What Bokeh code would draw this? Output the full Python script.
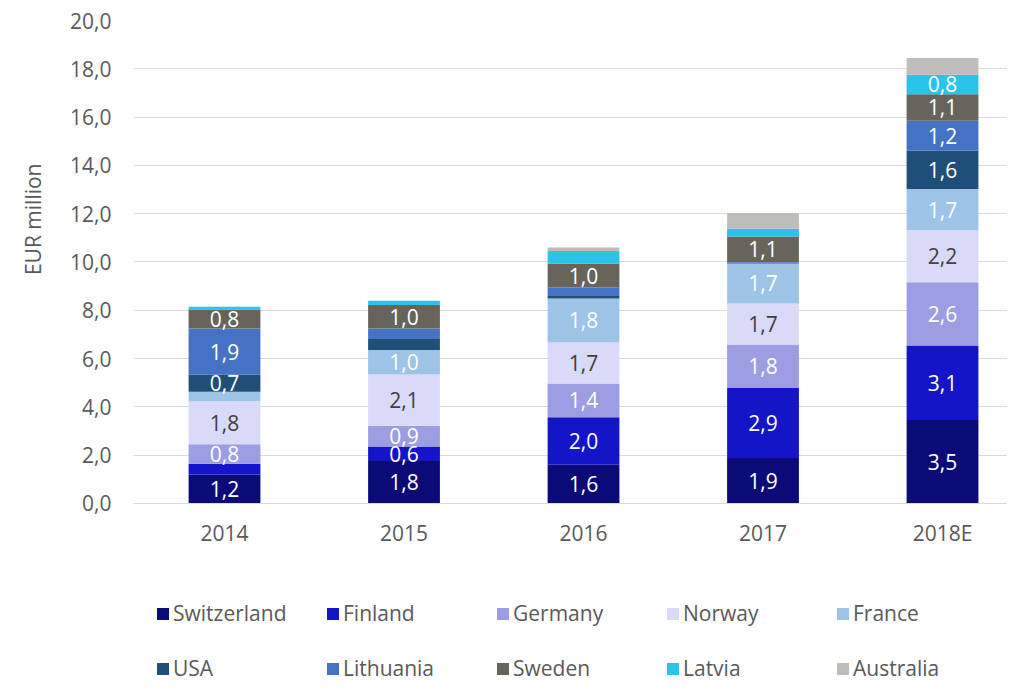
from bokeh.plotting import figure
from bokeh.models import ColumnDataSource, Range1d, FixedTicker, Legend, LegendItem, Title
from bokeh.core.properties import value
from bokeh.embed import file_html
from bokeh.resources import INLINE
import numpy as np

years = ["2014", "2015", "2016", "2017", "2018E"]
countries = ["Switzerland", "Finland", "Germany", "Norway", "France",
             "USA", "Lithuania", "Sweden", "Latvia", "Australia"]
switzerland = [1.2, 1.76, 1.6, 1.88, 3.46]
finland = [0.45, 0.6, 1.97, 2.9, 3.08]
germany = [0.8, 0.86, 1.4, 1.8, 2.62]
norway = [1.78, 2.12, 1.7, 1.7, 2.16]
france = [0.4, 1.02, 1.82, 1.66, 1.7]
usa = [0.7, 0.45, 0.1, 0.03, 1.6]
lithuania = [1.92, 0.44, 0.35, 0.03, 1.23]
sweden = [0.78, 0.97, 1.0, 1.06, 1.1]
latvia = [0.12, 0.18, 0.52, 0.32, 0.8]
australia = [0.0, 0.0, 0.14, 0.65, 0.7]
series = [switzerland, finland, germany, norway, france,
          usa, lithuania, sweden, latvia, australia]
colors = ["#0b0b78", "#1414c8", "#9d9de3", "#d9daf7", "#9dc3e6",
          "#1f4e79", "#4472c4", "#67645c", "#2bc4e8", "#bfbdb9"]
label_colors = ["white", "white", "white", "#404040", "white",
                "white", "white", "white", "white", "white"]
show_labels = [True] * 9 + [False]
y_ticks = [0, 2, 4, 6, 8, 10, 12, 14, 16, 18, 20]
y_title = "EUR million"

FONT = "Open Sans"
GREY = "#595959"

xs = list(range(len(years)))
data = {"x": xs}
for name, vals in zip(countries, series):
    data[name] = vals
source = ColumnDataSource(data)

p = figure(width=1007, height=684, output_backend="svg", toolbar_location=None,
           x_range=Range1d(-0.507, 4.362), y_range=Range1d(-7.495, 20),
           min_border_left=133, min_border_right=0, min_border_top=20,
           min_border_bottom=0, outline_line_color=None,
           background_fill_color="white", border_fill_color="white")

renderers = p.vbar_stack(countries, x="x", width=0.4, color=colors, source=source,
                         line_width=0)

# data labels
lx, ly, lt, lc = [], [], [], []
bottoms = np.zeros(len(years))
for vals, col, show in zip(series, label_colors, show_labels):
    v = np.array(vals, dtype=float)
    if show:
        for i in range(len(years)):
            if v[i] >= 0.55:
                lx.append(xs[i])
                ly.append(bottoms[i] + v[i] / 2)
                lt.append(f"{v[i]:.1f}".replace(".", ","))
                lc.append(col)
    bottoms = bottoms + v
lsrc = ColumnDataSource(dict(x=lx, y=ly, text=lt, color=lc))
p.text(x="x", y="y", text="text", source=lsrc, text_color="color",
       text_align="center", text_baseline="middle",
       text_font=value(FONT), text_font_size="21px")

# axes
p.xaxis.ticker = FixedTicker(ticks=xs)
p.xaxis.major_label_overrides = {x: y for x, y in zip(xs, years)}
p.xaxis.fixed_location = 0
p.yaxis.ticker = FixedTicker(ticks=y_ticks)
p.yaxis.major_label_overrides = {t: f"{t:.1f}".replace(".", ",") for t in y_ticks}
for ax in (p.xaxis[0], p.yaxis[0]):
    ax.major_tick_line_color = None
    ax.minor_tick_line_color = None
    ax.major_tick_out = 0
    ax.major_tick_in = 0
    ax.minor_tick_out = 0
    ax.major_label_text_font = FONT
    ax.major_label_text_font_size = "21px"
    ax.major_label_text_color = GREY
p.xaxis.axis_line_color = "#d9d9d9"
p.xaxis.axis_line_width = 1
p.xaxis.major_label_standoff = 16
p.yaxis.axis_line_color = None
p.yaxis.major_label_standoff = 22
p.xgrid.grid_line_color = None
p.ygrid.grid_line_color = "#d9d9d9"
p.ygrid.grid_line_width = 1

p.add_layout(Title(text=y_title, align="right", vertical_align="top",
                   offset=143, standoff=37, text_font=FONT,
                   text_font_size="21px", text_font_style="normal",
                   text_color=GREY), "left")

items = [LegendItem(label=c, renderers=[r]) for c, r in zip(countries, renderers)]
for row, loc in ((items[:5], (22, 57)), (items[5:], (22, 2))):
    leg = Legend(items=row, location=loc, orientation="horizontal",
                 glyph_width=15, glyph_height=15, label_standoff=3,
                 label_width=150, spacing=2, padding=0, margin=0,
                 border_line_color=None, background_fill_alpha=0,
                 label_text_font=FONT, label_text_font_size="21px",
                 label_text_color=GREY)
    p.add_layout(leg)

open("out.html", "w").write(file_html(p, INLINE))
